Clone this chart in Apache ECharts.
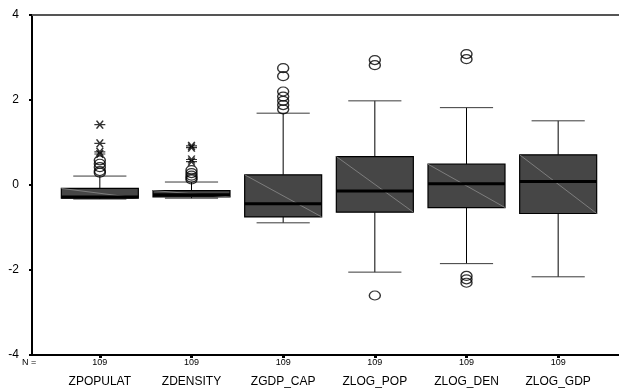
<!DOCTYPE html>
<html>
<head>
<meta charset="utf-8">
<script src="https://cdn.jsdelivr.net/npm/echarts@6/dist/echarts.min.js"></script>
<style>
html,body{margin:0;padding:0;background:#fff;}
#chart{width:619px;height:388px;}
</style>
</head>
<body>
<div id="chart"></div>
<script>
// ---- data ----
const categories = ['ZPOPULAT', 'ZDENSITY', 'ZGDP_CAP', 'ZLOG_POP', 'ZLOG_DEN', 'ZLOG_GDP'];
const counts = [109, 109, 109, 109, 109, 109];
const lowerWhisker = [-0.33, -0.31, -0.89, -2.05, -1.85, -2.16];
const quartile1 = [-0.31, -0.28, -0.75, -0.64, -0.53, -0.67];
const median = [-0.28, -0.23, -0.44, -0.14, 0.03, 0.08];
const quartile3 = [-0.08, -0.13, 0.24, 0.67, 0.49, 0.71];
const upperWhisker = [0.21, 0.07, 1.69, 1.98, 1.82, 1.51];
const outliers = [
  [0.58, 0.50, 0.42, 0.33, 0.29],
  [0.35, 0.28, 0.22, 0.17, 0.13],
  [2.75, 2.56, 2.20, 2.08, 1.98, 1.88, 1.78],
  [2.94, 2.82, -2.60],
  [3.08, 2.96, -2.14, -2.22, -2.30],
  []
];
const extremes = [
  [1.42, 0.98, 0.78, 0.73],
  [0.92, 0.88, 0.60, 0.55],
  [], [], [], []
];
const yTicks = [-4, -2, 0, 2, 4];

// ---- build series data ----
const boxData = categories.map((c, i) => [i, lowerWhisker[i], quartile1[i], median[i], quartile3[i], upperWhisker[i]]);
const outlierData = [];
outliers.forEach((arr, i) => arr.forEach(v => outlierData.push([i, v])));
const extremeData = [];
extremes.forEach((arr, i) => arr.forEach(v => extremeData.push([i, v])));

const FONT = '"Liberation Sans", Arial, sans-serif';
const chart = echarts.init(document.getElementById('chart'), null, {renderer: 'canvas'});

function renderBox(params, api) {
  const x = api.value(0);
  const lo = api.coord([x, api.value(1)]);
  const q1 = api.coord([x, api.value(2)]);
  const md = api.coord([x, api.value(3)]);
  const q3 = api.coord([x, api.value(4)]);
  const hi = api.coord([x, api.value(5)]);
  const band = api.size([1, 0])[0];
  const hw = band * 0.42;
  const ww = band * 0.29;
  const cx = md[0];
  const black = {stroke: '#000', lineWidth: 1};
  return {
    type: 'group',
    children: [
      {type: 'line', shape: {x1: cx, y1: hi[1], x2: cx, y2: q3[1]}, style: black},
      {type: 'line', shape: {x1: cx, y1: q1[1], x2: cx, y2: lo[1]}, style: black},
      {type: 'line', shape: {x1: cx - ww, y1: hi[1], x2: cx + ww, y2: hi[1]}, style: {stroke: '#3a3a3a', lineWidth: 1}},
      {type: 'line', shape: {x1: cx - ww, y1: lo[1], x2: cx + ww, y2: lo[1]}, style: {stroke: '#3a3a3a', lineWidth: 1}},
      {type: 'rect', shape: {x: cx - hw, y: q3[1], width: hw * 2, height: q1[1] - q3[1]},
        style: {fill: '#464646', stroke: '#000', lineWidth: 1.2}},
      {type: 'line', shape: {x1: cx - hw, y1: q3[1], x2: cx + hw, y2: q1[1]},
        style: {stroke: '#8c8c8c', lineWidth: 0.8}},
      {type: 'line', shape: {x1: cx - hw, y1: md[1], x2: cx + hw, y2: md[1]},
        style: {stroke: '#000', lineWidth: 3}}
    ]
  };
}

const option = {
  animation: false,
  backgroundColor: '#fff',
  grid: [
    {left: 54, width: 550, top: 15, height: 340},
    {left: 32, right: -20, top: 15, height: 340}
  ],
  xAxis: [
    {
      type: 'category', gridIndex: 0, data: categories,
      axisLine: {show: false, onZero: false},
      axisTick: {show: true, alignWithLabel: true, length: 3, lineStyle: {color: '#000', width: 3}},
      splitLine: {show: false},
      axisLabel: {
        margin: 2, interval: 0, color: '#000', fontFamily: FONT,
        formatter: (v, i) => '{n|' + counts[i] + '}\n{c|' + v + '}',
        rich: {
          n: {fontSize: 9, lineHeight: 12, fontFamily: FONT, color: '#000'},
          c: {fontSize: 12, lineHeight: 25, fontFamily: FONT, color: '#000'}
        }
      }
    },
    {
      type: 'value', gridIndex: 1, position: 'bottom', min: 0, max: 1,
      axisLine: {show: true, onZero: false, lineStyle: {color: '#000', width: 2}},
      axisTick: {show: false}, axisLabel: {show: false}, splitLine: {show: false}
    },
    {
      type: 'value', gridIndex: 1, position: 'top', min: 0, max: 1,
      axisLine: {show: true, onZero: false, lineStyle: {color: '#555', width: 2}},
      axisTick: {show: false}, axisLabel: {show: false}, splitLine: {show: false}
    }
  ],
  yAxis: [
    {type: 'value', gridIndex: 0, min: yTicks[0], max: yTicks[yTicks.length - 1], show: false, splitLine: {show: false}},
    {
      type: 'value', gridIndex: 1, min: yTicks[0], max: yTicks[yTicks.length - 1], interval: yTicks[1] - yTicks[0],
      axisLine: {show: true, onZero: false, lineStyle: {color: '#000', width: 2}},
      axisTick: {show: true, length: 3, lineStyle: {color: '#000', width: 2}},
      splitLine: {show: false},
      axisLabel: {margin: 13, color: '#000', fontSize: 12, fontFamily: FONT}
    }
  ],
  graphic: [
    {type: 'text', left: 22, top: 358, style: {text: 'N =', fontSize: 9, fontFamily: FONT, fill: '#000'}}
  ],
  series: [
    {
      type: 'custom', xAxisIndex: 0, yAxisIndex: 0, renderItem: renderBox, data: boxData,
      encode: {x: 0, y: [1, 2, 3, 4, 5]}, z: 2
    },
    {
      type: 'scatter', xAxisIndex: 0, yAxisIndex: 0, data: outlierData,
      symbol: 'circle', symbolSize: [11, 9],
      itemStyle: {color: 'rgba(0,0,0,0)', borderColor: '#000', borderWidth: 1.3}, z: 3
    },
    {
      type: 'scatter', xAxisIndex: 0, yAxisIndex: 0, data: extremeData,
      symbol: 'path://M-5,0L5,0M-3,-3.5L3,3.5M-3,3.5L3,-3.5', symbolSize: [11, 8],
      itemStyle: {color: 'rgba(0,0,0,0)', borderColor: '#000', borderWidth: 1.3}, z: 3
    }
  ]
};
chart.setOption(option);
</script>
</body>
</html>
